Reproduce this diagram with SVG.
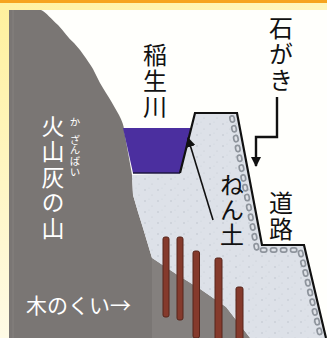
<svg xmlns="http://www.w3.org/2000/svg" width="327" height="338" viewBox="0 0 327 338">
  <defs>
    <linearGradient id="sideBand" x1="0" y1="0" x2="0" y2="1">
      <stop offset="0" stop-color="#fff09c"/>
      <stop offset="1" stop-color="#fffbe6"/>
    </linearGradient>
    <linearGradient id="topBand" x1="0" y1="0" x2="1" y2="0">
      <stop offset="0" stop-color="#fff2a2"/>
      <stop offset="1" stop-color="#fff6bc"/>
    </linearGradient>
    <pattern id="grit" width="13" height="11" patternUnits="userSpaceOnUse">
      <circle cx="2" cy="3" r="0.7" fill="#b7bcc6"/>
      <circle cx="9" cy="8" r="0.6" fill="#c2c6ce"/>
      <circle cx="6" cy="1" r="0.5" fill="#c9cdd4"/>
    </pattern>
    <marker id="head" viewBox="0 0 10 10" refX="9" refY="5" markerWidth="10" markerHeight="10" markerUnits="userSpaceOnUse" orient="auto">
      <path d="M0,0 L10,5 L0,10 Z" fill="#111"/>
    </marker>
  </defs>
  <style>
    .lbl { font-family: "Noto Sans CJK JP", "Noto Sans", sans-serif; fill: #111; }
    .wlbl { font-family: "Noto Sans CJK JP", "Noto Sans", sans-serif; fill: #fff; }
    .vert { writing-mode: vertical-rl; text-anchor: start; }
    .pile { fill: #853a2c; stroke: #57241a; stroke-width: 1; }
    .edge { fill: none; stroke: #111; stroke-width: 2.2; stroke-linejoin: miter; }
  </style>

  <!-- frame -->
  <rect x="0" y="0" width="327" height="338" fill="url(#sideBand)"/>
  <rect x="0" y="0" width="327" height="10" fill="url(#topBand)"/>
  <rect x="0" y="0" width="327" height="3" fill="#f6a41f"/>
  <rect x="9" y="10" width="318" height="328" fill="#fffffc"/>

  <!-- volcanic ash mountain -->
  <g id="mountain">
    <path d="M9,10 L41,10 C46,12 52,20 58,25 C64,31 68,38 74,43 L80,50 C86,58 90,64 93,69 L100,83 C104,90 108,96 111,101 L119,115 C122,121 124,126 124,130 L129,158 L132,175 L133,195 L138,212 L143,228 L149,248 L152,258 L176,274 L200,289 L226,307 L250,338 L9,338 Z" fill="#7a7674"/>
    <path d="M152,258 L176,274 L200,289 L226,307 L250,338 L152,338 Z" fill="#84807e"/>
    <line x1="13" y1="10" x2="13" y2="338" stroke="#85817f" stroke-width="1"/>
  </g>

  <!-- clay embankment -->
  <g id="clay">
    <path d="M195,113 L237,113 L262,245 L304,245 L326,338 L250,338 L226,307 L200,289 L176,274 L152,258 L149,248 L143,228 L138,212 L133,195 L132,175 L180,173 Z" fill="#dde1e8"/>
    <path d="M195,113 L237,113 L262,245 L304,245 L326,338 L250,338 L226,307 L200,289 L176,274 L152,258 L149,248 L143,228 L138,212 L133,195 L132,175 L180,173 Z" fill="url(#grit)"/>
  </g>

  <!-- stone wall facing -->
  <g id="stonewall">
    <path d="M232,118 L257,250 L300,250 L321,338" fill="none" stroke="#8e949c" stroke-width="6" stroke-linecap="round" stroke-dasharray="2 8"/>
    <path d="M232,118 L257,250 L300,250 L321,338" fill="none" stroke="#dfe2e8" stroke-width="2.6" stroke-linecap="round" stroke-dasharray="2 8"/>
  </g>

  <!-- Inaoi river channel -->
  <g id="river">
    <path d="M123,128 L191,128 L180,173 L133,173 Z" fill="#4b2f9f"/>
    <line x1="133" y1="173" x2="180" y2="173" stroke="#1d1640" stroke-width="1.6"/>
  </g>

  <!-- embankment outline -->
  <g id="outline">
    <path class="edge" d="M180,173 L195,113 L237,113 L262,245 L304,245 L326,338"/>
  </g>

  <!-- wooden piles -->
  <g id="piles">
    <rect class="pile" x="163" y="237" width="6" height="80" rx="2"/>
    <rect class="pile" x="177" y="237" width="6" height="83" rx="2"/>
    <rect class="pile" x="193" y="251" width="6.5" height="87" rx="2"/>
    <rect class="pile" x="215" y="258" width="7" height="82" rx="2"/>
    <rect class="pile" x="236" y="287" width="7" height="53" rx="2"/>
  </g>

  <!-- connectors -->
  <g id="connectors">
    <path d="M277,97 V137 H256 V166" fill="none" stroke="#111" stroke-width="2.4" marker-end="url(#head)"/>
    <path d="M213,220 L188,138" fill="none" stroke="#111" stroke-width="1.6" marker-end="url(#head)"/>
  </g>

  <!-- labels (vertical writing) -->
  <g id="label-river">
    <text class="lbl vert" font-size="24" letter-spacing="2" x="155" y="43">稲生川</text>
  </g>
  <g id="label-stonewall">
    <text class="lbl vert" font-size="24" letter-spacing="2" x="281" y="16">石がき</text>
  </g>
  <g id="label-clay">
    <text class="lbl vert" font-size="24" letter-spacing="1" x="232" y="173">ねん土</text>
  </g>
  <g id="label-road">
    <text class="lbl vert" font-size="24" letter-spacing="2" x="281" y="191">道路</text>
  </g>
  <g id="label-mountain">
    <text class="wlbl vert" font-size="23" letter-spacing="2.5" x="53" y="114.5">火山灰の山</text>
    <text class="wlbl vert" font-size="10.5" x="75" y="116.5">か</text>
    <text class="wlbl vert" font-size="10.5" letter-spacing="0.2" x="75" y="134.5">ざんばい</text>
  </g>
  <g id="label-piles">
    <text class="wlbl" font-size="21" x="26" y="313">木のくい→</text>
  </g>
</svg>
